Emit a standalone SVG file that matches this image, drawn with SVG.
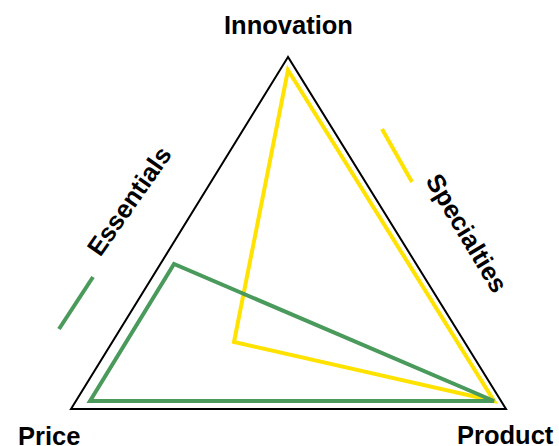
<svg xmlns="http://www.w3.org/2000/svg" width="559" height="446" viewBox="0 0 559 446">
  <style>
    .lbl { font-family: "Liberation Sans", Arial, sans-serif; font-weight: bold; font-size: 25.5px; fill: #000; }
    .frame { fill: none; stroke: #000; stroke-width: 2; stroke-linejoin: miter; }
    .green { fill: none; stroke: #4a9a5c; stroke-width: 4; stroke-linejoin: miter; }
    .yellow { fill: none; stroke: #ffe200; stroke-width: 4; stroke-linejoin: miter; }
  </style>
  <rect width="559" height="446" fill="#fff"/>

  <!-- outer frame triangle -->
  <g id="frame">
    <polygon class="frame" points="288,57 71,409 506,409"/>
  </g>

  <!-- profile shapes -->
  <g id="connectors">
    <polygon class="yellow" points="288,70 234,342 494,401"/>
    <polygon class="green" points="90,401 174,264 494,401"/>
    <line class="green" x1="59" y1="329" x2="93" y2="277"/>
    <line class="yellow" x1="382" y1="129" x2="412" y2="182"/>
  </g>

  <g id="innovation">
    <text class="lbl" x="288.5" y="34" text-anchor="middle">Innovation</text>
  </g>
  <g id="price">
    <text class="lbl" x="18" y="445">Price</text>
  </g>
  <g id="product">
    <text class="lbl" x="457" y="443.5">Product</text>
  </g>
  <g id="essentials">
    <text class="lbl" transform="translate(129,201) rotate(-55)" x="0" y="9" text-anchor="middle">Essentials</text>
  </g>
  <g id="specialties">
    <text class="lbl" transform="translate(467,233) rotate(59)" x="0" y="9" text-anchor="middle">Specialties</text>
  </g>
</svg>
